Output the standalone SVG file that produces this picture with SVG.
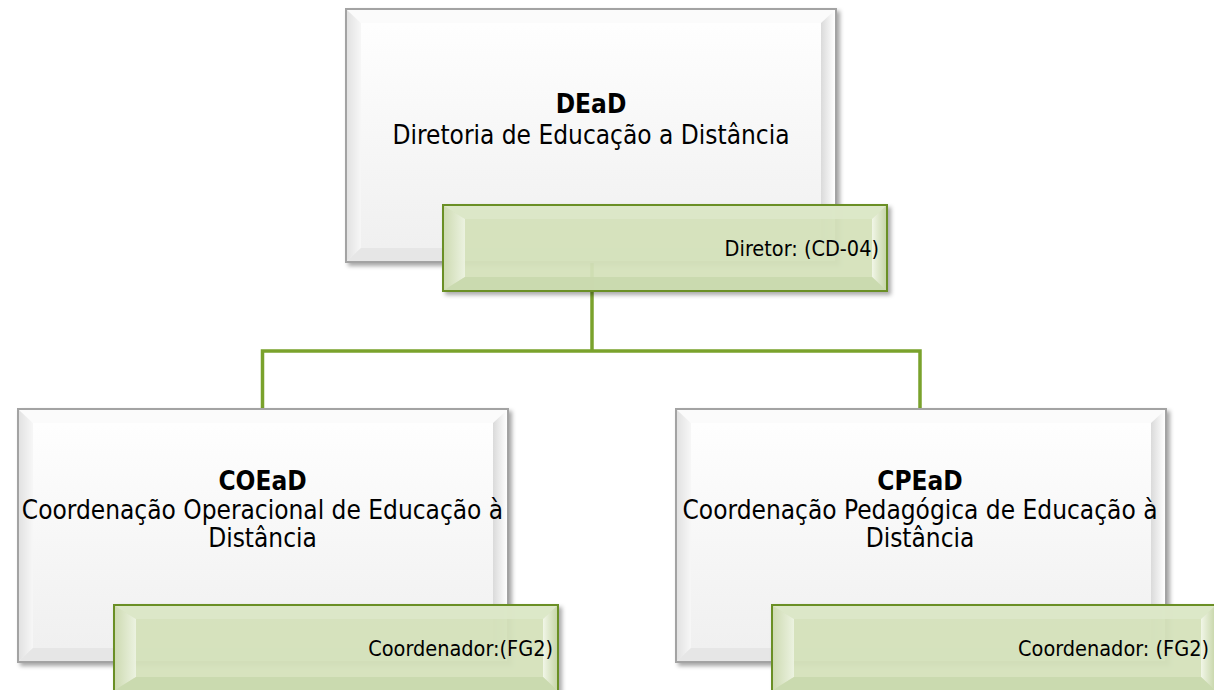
<svg xmlns="http://www.w3.org/2000/svg" xmlns:xlink="http://www.w3.org/1999/xlink" width="1214" height="690" viewBox="0 0 1214 690">
  <style>
    .title { font-family: "DejaVu Sans Condensed", "DejaVu Sans", "Liberation Sans", sans-serif; font-size: 26px; font-weight: bold; fill: #000; text-anchor: middle; }
    .sub { font-family: "DejaVu Sans Condensed", "DejaVu Sans", "Liberation Sans", sans-serif; font-size: 26px; fill: #000; text-anchor: middle; }
    .role { font-family: "DejaVu Sans Condensed", "DejaVu Sans", "Liberation Sans", sans-serif; font-size: 21.5px; fill: #000; text-anchor: end; }
    .conn { fill: none; stroke: #7aa22c; stroke-width: 3.5; }
  </style>
  <defs>
    <filter id="shadow" x="-5%" y="-5%" width="115%" height="120%">
      <feDropShadow dx="3" dy="3" stdDeviation="2" flood-color="#000" flood-opacity="0.35"/>
    </filter>
    <linearGradient id="faceW" x1="0" y1="0" x2="0" y2="1">
      <stop offset="0" stop-color="#ffffff"/>
      <stop offset="1" stop-color="#efefef"/>
    </linearGradient>
    <linearGradient id="leftW" x1="0" y1="0" x2="1" y2="0">
      <stop offset="0" stop-color="#e2e2e2"/>
      <stop offset="1" stop-color="#f7f7f7"/>
    </linearGradient>
    <linearGradient id="rightW" x1="0" y1="0" x2="1" y2="0">
      <stop offset="0" stop-color="#dadada"/>
      <stop offset="1" stop-color="#ffffff"/>
    </linearGradient>
    <linearGradient id="leftG" x1="0" y1="0" x2="1" y2="0">
      <stop offset="0" stop-color="#cddab1"/>
      <stop offset="1" stop-color="#eef4e4"/>
    </linearGradient>
    <linearGradient id="rightG" x1="0" y1="0" x2="1" y2="0">
      <stop offset="0" stop-color="#f4f8ec"/>
      <stop offset="1" stop-color="#c6d5a8"/>
    </linearGradient>
    <g id="mainBox">
      <rect x="0" y="0" width="490" height="253" fill="url(#faceW)" stroke="#a3a3a3" stroke-width="2" filter="url(#shadow)"/>
      <polygon points="1,1 489,1 475,14 15,14" fill="#fbfbfb"/>
      <polygon points="1,1 15,14 15,239 1,252" fill="url(#leftW)"/>
      <polygon points="489,1 489,252 475,239 475,14" fill="url(#rightW)"/>
      <polygon points="1,252 15,239 475,239 489,252" fill="#e6e6e6"/>
      <rect x="0" y="0" width="490" height="253" fill="none" stroke="#a3a3a3" stroke-width="2"/>
    </g>
    <g id="greenBox">
      <rect x="0" y="0" width="444" height="86" fill="#d7e4bd" fill-opacity="0.92" stroke="#6a8f25" stroke-width="2" filter="url(#shadow)"/>
      <polygon points="1,1 443,1 429,14 22,14" fill="#dde8c9" fill-opacity="0.9"/>
      <polygon points="1,1 22,14 22,72 1,85" fill="url(#leftG)" fill-opacity="0.9"/>
      <polygon points="443,1 443,85 429,72 429,14" fill="url(#rightG)" fill-opacity="0.9"/>
      <polygon points="1,85 22,72 429,72 443,85" fill="#c9d8ad" fill-opacity="0.9"/>
      <rect x="0" y="0" width="444" height="86" fill="none" stroke="#6a8f25" stroke-width="2"/>
    </g>
  </defs>

  <g id="connectors">
    <path class="conn" d="M592,262 V351"/>
    <path class="conn" d="M262.5,409 V351 H920 V409"/>
  </g>

  <g id="node-dead">
    <use xlink:href="#mainBox" href="#mainBox" x="346" y="9"/>
    <text class="title" x="591" y="113">DEaD</text>
    <text class="sub" x="591" y="144">Diretoria de Educação a Distância</text>
  </g>
  <g id="node-dead-role">
    <use xlink:href="#greenBox" href="#greenBox" x="443" y="205"/>
    <text class="role" x="879" y="256">Diretor: (CD-04)</text>
  </g>

  <g id="node-coead">
    <use xlink:href="#mainBox" href="#mainBox" x="18" y="409"/>
    <text class="title" x="262.5" y="490">COEaD</text>
    <text class="sub" x="262.5" y="519">Coordenação Operacional de Educação à</text>
    <text class="sub" x="262.5" y="547">Distância</text>
  </g>
  <g id="node-coead-role">
    <use xlink:href="#greenBox" href="#greenBox" x="114" y="605"/>
    <text class="role" x="553" y="656">Coordenador:(FG2)</text>
  </g>

  <g id="node-cpead">
    <use xlink:href="#mainBox" href="#mainBox" x="676" y="409"/>
    <text class="title" x="920" y="490">CPEaD</text>
    <text class="sub" x="920" y="519">Coordenação Pedagógica de Educação à</text>
    <text class="sub" x="920" y="547">Distância</text>
  </g>
  <g id="node-cpead-role">
    <use xlink:href="#greenBox" href="#greenBox" x="772" y="605"/>
    <text class="role" x="1209" y="656">Coordenador: (FG2)</text>
  </g>
</svg>
